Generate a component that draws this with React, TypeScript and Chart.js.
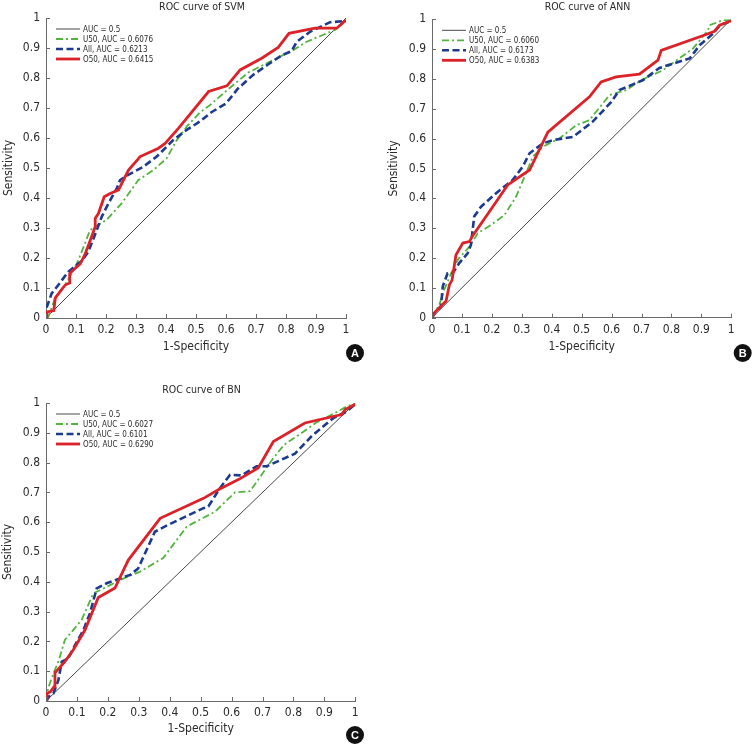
import React, { useEffect, useRef } from "react";
import { Chart, registerables } from "chart.js";

Chart.register(...registerables);

type Pt = [number, number];

// ---------- data ----------
const TICK_VALUES = [0, 0.1, 0.2, 0.3, 0.4, 0.5, 0.6, 0.7, 0.8, 0.9, 1];
const TICK_LABELS = ["0", "0.1", "0.2", "0.3", "0.4", "0.5", "0.6", "0.7", "0.8", "0.9", "1"];
const X_TITLE = "1-Specificity";
const Y_TITLE = "Sensitivity";

const DIAGONAL: Pt[] = [[0, 0], [1, 1]];

const SVM_LABELS = ["AUC = 0.5", "U50, AUC = 0.6076", "All, AUC = 0.6213", "O50, AUC = 0.6415"];
const SVM_U50: Pt[] = [[0, 0], [0.008, 0.004], [0.03, 0.066], [0.063, 0.11], [0.086, 0.149], [0.108, 0.193], [0.13, 0.249], [0.147, 0.293], [0.163, 0.304], [0.202, 0.327], [0.252, 0.382], [0.308, 0.46], [0.358, 0.493], [0.402, 0.532], [0.436, 0.593], [0.469, 0.638], [0.513, 0.685], [0.547, 0.71], [0.602, 0.758], [0.674, 0.818], [0.769, 0.866], [0.824, 0.893], [0.869, 0.921], [0.963, 0.96], [1, 0.99]];
const SVM_ALL: Pt[] = [[0, 0], [0.002, 0.035], [0.019, 0.082], [0.041, 0.11], [0.074, 0.154], [0.119, 0.19], [0.141, 0.221], [0.163, 0.277], [0.186, 0.338], [0.208, 0.382], [0.236, 0.432], [0.247, 0.46], [0.274, 0.477], [0.324, 0.504], [0.369, 0.538], [0.424, 0.593], [0.469, 0.627], [0.513, 0.655], [0.55, 0.685], [0.6, 0.715], [0.64, 0.765], [0.69, 0.81], [0.74, 0.845], [0.785, 0.875], [0.819, 0.89], [0.836, 0.921], [0.88, 0.954], [0.947, 0.986], [1, 0.99]];
const SVM_O50: Pt[] = [[0, 0], [0.003, 0.02], [0.026, 0.025], [0.031, 0.067], [0.064, 0.11], [0.079, 0.117], [0.079, 0.148], [0.092, 0.161], [0.114, 0.18], [0.131, 0.215], [0.148, 0.26], [0.164, 0.304], [0.164, 0.332], [0.175, 0.349], [0.194, 0.404], [0.214, 0.415], [0.242, 0.427], [0.275, 0.493], [0.314, 0.538], [0.375, 0.566], [0.397, 0.582], [0.442, 0.633], [0.542, 0.755], [0.603, 0.774], [0.647, 0.827], [0.719, 0.866], [0.774, 0.902], [0.81, 0.949], [0.897, 0.966], [0.969, 0.966], [1, 0.993]];

const ANN_LABELS = ["AUC = 0.5", "U50, AUC = 0.6060", "All, AUC = 0.6173", "O50, AUC = 0.6383"];
const ANN_U50: Pt[] = [[0, 0], [0.008, 0.016], [0.024, 0.043], [0.041, 0.094], [0.064, 0.149], [0.086, 0.194], [0.125, 0.238], [0.153, 0.283], [0.197, 0.311], [0.242, 0.344], [0.281, 0.406], [0.314, 0.484], [0.337, 0.539], [0.37, 0.573], [0.426, 0.601], [0.482, 0.645], [0.526, 0.662], [0.593, 0.746], [0.649, 0.763], [0.699, 0.796], [0.771, 0.829], [0.872, 0.902], [0.922, 0.963], [0.927, 0.98], [0.972, 0.997], [1, 0.997]];
const ANN_ALL: Pt[] = [[0, 0], [0.008, 0.016], [0.03, 0.038], [0.036, 0.105], [0.052, 0.149], [0.069, 0.149], [0.091, 0.183], [0.119, 0.216], [0.13, 0.244], [0.141, 0.339], [0.164, 0.372], [0.214, 0.417], [0.27, 0.462], [0.303, 0.506], [0.326, 0.551], [0.37, 0.584], [0.404, 0.595], [0.471, 0.606], [0.515, 0.64], [0.537, 0.657], [0.599, 0.723], [0.626, 0.763], [0.705, 0.796], [0.76, 0.837], [0.861, 0.869], [0.894, 0.913], [0.939, 0.952], [0.961, 0.98], [1, 0.995]];
const ANN_O50: Pt[] = [[0, 0], [0.011, 0.02], [0.047, 0.056], [0.058, 0.11], [0.067, 0.126], [0.08, 0.21], [0.103, 0.25], [0.125, 0.255], [0.136, 0.275], [0.192, 0.356], [0.253, 0.445], [0.326, 0.495], [0.387, 0.622], [0.526, 0.74], [0.565, 0.79], [0.615, 0.807], [0.693, 0.816], [0.755, 0.863], [0.766, 0.896], [0.916, 0.949], [0.944, 0.96], [0.961, 0.98], [1, 0.995]];

const BN_LABELS = ["AUC = 0.5", "U50, AUC = 0.6027", "All, AUC = 0.6101", "O50, AUC = 0.6290"];
const BN_U50: Pt[] = [[0, 0], [0.007, 0.043], [0.024, 0.093], [0.04, 0.132], [0.061, 0.205], [0.088, 0.238], [0.115, 0.272], [0.153, 0.361], [0.196, 0.383], [0.239, 0.406], [0.304, 0.434], [0.379, 0.48], [0.455, 0.585], [0.509, 0.615], [0.546, 0.635], [0.611, 0.7], [0.66, 0.704], [0.735, 0.815], [0.77, 0.86], [0.82, 0.895], [0.875, 0.935], [0.93, 0.964], [0.975, 0.99], [1, 0.998]];
const BN_ALL: Pt[] = [[0, 0], [0.013, 0.02], [0.024, 0.026], [0.04, 0.07], [0.051, 0.132], [0.072, 0.143], [0.094, 0.188], [0.121, 0.238], [0.142, 0.294], [0.164, 0.378], [0.196, 0.395], [0.272, 0.423], [0.298, 0.445], [0.352, 0.568], [0.395, 0.591], [0.509, 0.647], [0.525, 0.653], [0.563, 0.715], [0.595, 0.759], [0.633, 0.757], [0.681, 0.788], [0.714, 0.788], [0.805, 0.83], [0.86, 0.89], [0.93, 0.95], [0.97, 0.97], [1, 0.996]];
const BN_O50: Pt[] = [[0, 0], [0.003, 0.026], [0.014, 0.031], [0.026, 0.048], [0.029, 0.095], [0.061, 0.132], [0.088, 0.171], [0.126, 0.238], [0.169, 0.347], [0.223, 0.379], [0.266, 0.473], [0.369, 0.613], [0.509, 0.68], [0.557, 0.709], [0.622, 0.743], [0.686, 0.782], [0.735, 0.871], [0.837, 0.933], [0.956, 0.961], [0.967, 0.978], [1, 0.996]];

// ---------- styles ----------
const FONT = "'Liberation Sans Narrow', 'DejaVu Sans Condensed', 'Liberation Sans', sans-serif";
const AXIS_COLOR = "#6a6a6a";
const TEXT_COLOR = "#2a2a2a";
const SERIES_STYLES = [
  { color: "#333333", width: 0.9, dash: [] as number[], order: 3 },
  { color: "#52b43c", width: 1.8, dash: [7, 3, 2, 3], order: 2 },
  { color: "#1c3a8e", width: 2.6, dash: [7, 3.5], order: 1 },
  { color: "#dc2128", width: 2.8, dash: [] as number[], order: 0 },
];

type PanelCfg = {
  letter: string;
  title: string;
  left: number; top: number; w: number; h: number;
  pad: { left: number; top: number; right: number; bottom: number };
  yW: number; xH: number; yTitlePad: number;
  titlePos: [number, number];
  badge: [number, number];
  labels: string[];
  series: Pt[][];
};

const PANELS: PanelCfg[] = [
  {
    letter: "A", title: "ROC curve of SVM", left: 0, top: 0, w: 376, h: 370,
    pad: { left: 0, top: 18, right: 30, bottom: 15.2 }, yW: 46, xH: 36.8, yTitlePad: 1.5,
    titlePos: [202, 7.5], badge: [355, 353], labels: SVM_LABELS,
    series: [DIAGONAL, SVM_U50, SVM_ALL, SVM_O50],
  },
  {
    letter: "B", title: "ROC curve of ANN", left: 376, top: 0, w: 376, h: 370,
    pad: { left: 10, top: 19.3, right: 20.7, bottom: 15.2 }, yW: 46, xH: 37.1, yTitlePad: 0.8,
    titlePos: [211.5, 7.5], badge: [366.7, 353], labels: ANN_LABELS,
    series: [DIAGONAL, ANN_U50, ANN_ALL, ANN_O50],
  },
  {
    letter: "C", title: "ROC curve of BN", left: 0, top: 370, w: 376, h: 374,
    pad: { left: 0, top: 33, right: 20.7, bottom: 7.2 }, yW: 46, xH: 35.8, yTitlePad: 0.8,
    titlePos: [201.5, 20.5], badge: [355, 365], labels: BN_LABELS,
    series: [DIAGONAL, BN_U50, BN_ALL, BN_O50],
  },
];

function decorPlugin(cfg: PanelCfg) {
  return {
    id: "decor" + cfg.letter,
    afterDraw(chart: any) {
      const ctx: CanvasRenderingContext2D = chart.ctx;
      const area = chart.chartArea;
      const xs = chart.scales.x;
      const ys = chart.scales.y;
      ctx.save();
      // inward tick marks
      ctx.strokeStyle = AXIS_COLOR;
      ctx.lineWidth = 1;
      ctx.beginPath();
      TICK_VALUES.forEach((v) => {
        const px = Math.round(xs.getPixelForValue(v)) + 0.5;
        ctx.moveTo(px, area.bottom);
        ctx.lineTo(px, area.bottom - 4);
        const py = Math.round(ys.getPixelForValue(v)) + 0.5;
        ctx.moveTo(area.left, py);
        ctx.lineTo(area.left + 4, py);
      });
      ctx.stroke();

      // title
      ctx.fillStyle = TEXT_COLOR;
      ctx.font = `10.5px ${FONT}`;
      ctx.textAlign = "center";
      ctx.textBaseline = "middle";
      ctx.fillText(cfg.title, cfg.titlePos[0], cfg.titlePos[1]);

      // legend
      ctx.font = `8px ${FONT}`;
      ctx.textAlign = "left";
      chart.data.datasets.forEach((ds: any, i: number) => {
        const y = area.top + 11 + 10 * i;
        ctx.save();
        ctx.strokeStyle = ds.borderColor;
        ctx.lineWidth = ds.borderWidth;
        ctx.setLineDash(ds.borderDash || []);
        ctx.beginPath();
        ctx.moveTo(area.left + 10, y);
        ctx.lineTo(area.left + 34, y);
        ctx.stroke();
        ctx.restore();
        ctx.fillStyle = TEXT_COLOR;
        ctx.fillText(ds.label, area.left + 37, y + 0.5);
      });

      // badge
      ctx.fillStyle = "#111111";
      ctx.beginPath();
      ctx.arc(cfg.badge[0], cfg.badge[1], 9, 0, Math.PI * 2);
      ctx.fill();
      ctx.fillStyle = "#ffffff";
      ctx.font = `bold 11px 'Liberation Sans', Arial, sans-serif`;
      ctx.textAlign = "center";
      ctx.textBaseline = "middle";
      ctx.fillText(cfg.letter, cfg.badge[0], cfg.badge[1] + 0.5);
      ctx.restore();
    },
  };
}

function axisOptions(cfg: PanelCfg, axis: "x" | "y") {
  const isX = axis === "x";
  return {
    type: "linear" as const,
    min: 0,
    max: 1,
    afterFit: (s: any) => {
      if (isX) s.height = cfg.xH;
      else s.width = cfg.yW;
    },
    afterBuildTicks: (s: any) => {
      s.ticks = TICK_VALUES.map((v) => ({ value: v }));
    },
    ticks: {
      autoSkip: false,
      maxRotation: 0,
      minRotation: 0,
      padding: isX ? 5 : 6,
      color: TEXT_COLOR,
      font: { family: FONT, size: 12 },
      callback: (_v: any, i: number) => TICK_LABELS[i],
    },
    grid: { display: true, drawOnChartArea: false, drawTicks: false, tickLength: 0, color: AXIS_COLOR },
    border: { display: true, color: AXIS_COLOR, width: 1 },
    title: {
      display: true,
      text: isX ? X_TITLE : Y_TITLE,
      color: TEXT_COLOR,
      font: { family: FONT, size: 12, lineHeight: 1.2 },
      padding: isX ? { top: 0, bottom: 0.5 } : { top: cfg.yTitlePad, bottom: 0 },
    },
  };
}

function Panel({ cfg }: { cfg: PanelCfg }) {
  const ref = useRef<HTMLCanvasElement | null>(null);
  useEffect(() => {
    if (!ref.current) return;
    const chart = new Chart(ref.current, {
      type: "line",
      data: {
        datasets: cfg.series.map((pts, i) => ({
          label: cfg.labels[i],
          data: pts.map(([x, y]) => ({ x, y })),
          borderColor: SERIES_STYLES[i].color,
          backgroundColor: SERIES_STYLES[i].color,
          borderWidth: SERIES_STYLES[i].width,
          borderDash: SERIES_STYLES[i].dash,
          order: SERIES_STYLES[i].order,
          pointRadius: 0,
          tension: 0,
          fill: false,
        })),
      },
      options: {
        responsive: false,
        animation: false,
        events: [],
        devicePixelRatio: 1,
        layout: { padding: cfg.pad },
        plugins: {
          legend: { display: false },
          tooltip: { enabled: false },
          title: { display: false },
        },
        scales: {
          x: axisOptions(cfg, "x") as any,
          y: axisOptions(cfg, "y") as any,
        },
      },
      plugins: [decorPlugin(cfg)],
    });
    return () => chart.destroy();
  }, [cfg]);
  return (
    <canvas
      ref={ref}
      width={cfg.w}
      height={cfg.h}
      style={{ position: "absolute", left: cfg.left, top: cfg.top, width: cfg.w, height: cfg.h }}
    />
  );
}

export default function App() {
  return (
    <div style={{ position: "fixed", left: 0, top: 0, width: 752, height: 744, background: "#ffffff" }}>
      {PANELS.map((p) => (
        <Panel key={p.letter} cfg={p} />
      ))}
    </div>
  );
}
